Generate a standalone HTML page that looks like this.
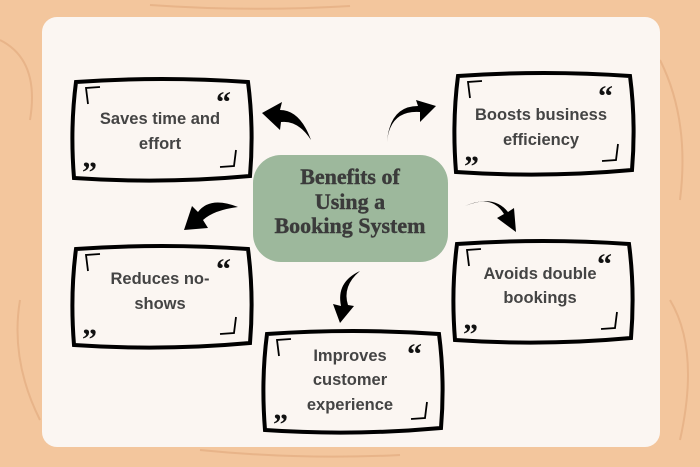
<!DOCTYPE html>
<html><head><style>
html,body{margin:0;padding:0;width:700px;height:467px;overflow:hidden;background:#F3C69D}
svg{display:block}
.t{font-family:"Liberation Sans",sans-serif;font-weight:bold;font-size:16.5px;fill:#444;text-anchor:middle}
.h{font-family:"Liberation Serif",serif;font-weight:bold;font-size:22px;fill:#3b3b3b;text-anchor:middle;stroke:#3b3b3b;stroke-width:0.4}
.q{font-family:"Liberation Serif",serif;font-weight:bold;font-size:30px;fill:#111}
</style></head><body>
<svg width="700" height="467" viewBox="0 0 700 467">
<g stroke="#e3ad80" stroke-width="2" fill="none" opacity="0.7">
<path d="M0 40 Q40 60 30 120"/><path d="M20 300 Q10 360 40 420"/><path d="M660 60 Q690 120 680 200"/><path d="M670 300 Q700 350 680 440"/><path d="M200 450 Q300 460 400 455"/><path d="M150 5 Q250 12 350 6"/>
</g>
<rect x="42" y="17" width="618" height="430" rx="15" fill="#FBF6F2"/>
<defs>
<g id="box">
<path d="M4 4 Q90 -2 176 4 Q182 50 178 98 Q90 106 2 100 Q-2 50 4 4 Z" fill="#FBF6F2" stroke="#000" stroke-width="4"/>
<path d="M16 26 L14 10 L28 9" fill="none" stroke="#000" stroke-width="1.8"/>
<path d="M164 72 L162 88 L148 89" fill="none" stroke="#000" stroke-width="1.8"/>
</g>
</defs>
<g transform="translate(72,78)"><use href="#box"/><text class="q" x="144" y="34">“</text><text class="q" x="10" y="104">”</text></g>
<g transform="translate(454,72)"><use href="#box"/><text class="q" x="144" y="34">“</text><text class="q" x="10" y="104">”</text></g>
<g transform="translate(72,245)"><use href="#box"/><text class="q" x="144" y="34">“</text><text class="q" x="10" y="104">”</text></g>
<g transform="translate(453,240)"><use href="#box"/><text class="q" x="144" y="34">“</text><text class="q" x="10" y="104">”</text></g>
<g transform="translate(263,330)"><use href="#box"/><text class="q" x="144" y="34">“</text><text class="q" x="10" y="104">”</text></g>

<text class="t" x="160" y="124">Saves time and</text><text class="t" x="160" y="149">effort</text>
<text class="t" x="541" y="120">Boosts business</text><text class="t" x="541" y="145">efficiency</text>
<text class="t" x="160" y="284">Reduces no-</text><text class="t" x="160" y="309">shows</text>
<text class="t" x="540" y="279">Avoids double</text><text class="t" x="540" y="303">bookings</text>
<text class="t" x="350" y="361">Improves</text><text class="t" x="350" y="385">customer</text><text class="t" x="350" y="410">experience</text>

<rect x="253" y="155" width="195" height="107" rx="28" fill="#9DB89C"/>
<text class="h" x="350" y="184">Benefits of</text>
<text class="h" x="350" y="209">Using a</text>
<text class="h" x="350" y="233">Booking System</text>

<g fill="#000">
<path d="M311 140 Q300 110 280 110 L282 102 L262 113 L280 130 L281 122 Q298 120 311 140 Z"/>
<path d="M387 142 Q390 110 420 112 L420 122 L436 106 L416 100 L418 106 Q390 106 387 142 Z"/>
<path d="M238 207 Q210 196 198 212 L192 206 L184 230 L208 228 L203 220 Q214 210 238 207 Z"/>
<path d="M465 206 Q492 194 504 214 L497 218 L516 232 L514 208 L508 212 Q494 194 465 206 Z"/>
<path d="M360 271 Q336 282 341 306 L333 304 L340 323 L354 306 L348 305 Q342 286 360 271 Z"/>
</g>
</svg>
</body></html>
